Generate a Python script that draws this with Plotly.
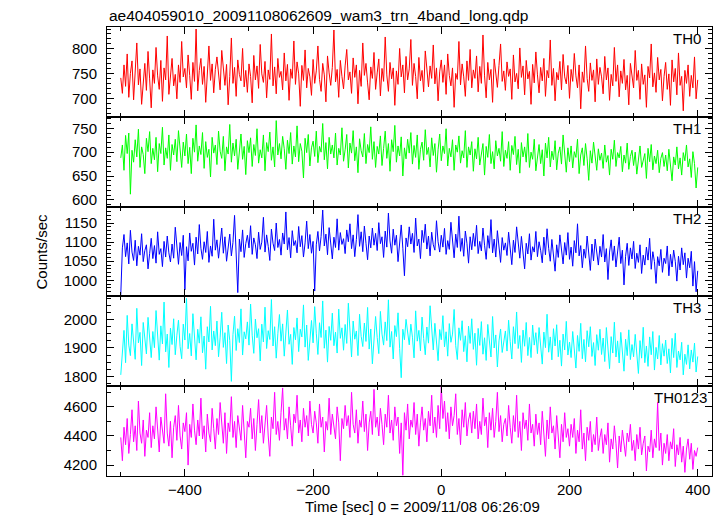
import numpy as np
import plotly.graph_objects as go
from plotly.subplots import make_subplots

title_text = "ae404059010_20091108062609_wam3_trn_4band_long.qdp"
band_names = ["TH0", "TH1", "TH2", "TH3", "TH0123"]
band_colors = ["#ff0000", "#00ff00", "#0000ff", "#00ffff", "#ff00ff"]

# bin times (sec), 2.5 s bins
t_start, t_step, n_bins = -500.0, 2.5, 361
time = t_start + t_step * np.arange(n_bins)

th0 = [
    742, 711, 768, 725, 790, 703, 751, 776, 698, 745, 812, 728, 760, 689, 734, 771, 717, 795, 740, 682,
    758, 731, 803, 746, 719, 777, 695, 762, 738, 826, 709, 754, 781, 726, 749, 700, 768, 733, 815, 744,
    761, 722, 788, 747, 699, 773, 735, 840, 716, 757, 781, 729, 765, 693, 748, 806, 737, 770, 712, 759,
    784, 741, 718, 797, 752, 727, 769, 688, 745, 822, 731, 763, 705, 778, 749, 736, 801, 724, 757, 713,
    770, 745, 692, 787, 738, 766, 721, 809, 750, 733, 775, 702, 758, 739, 830, 726, 764, 710, 781, 743,
    755, 718, 792, 736, 769, 697, 760, 741, 816, 729, 774, 750, 685, 767, 737, 798, 722, 761, 744, 707,
    779, 731, 756, 806, 739, 715, 771, 748, 694, 786, 752, 727, 763, 838, 734, 759, 703, 777, 745, 720,
    766, 799, 738, 754, 711, 782, 743, 768, 690, 757, 725, 812, 747, 771, 732, 698, 764, 741, 793, 719,
    752, 780, 706, 761, 735, 824, 748, 715, 773, 740, 762, 687, 756, 729, 801, 744, 768, 712, 785, 738,
    760, 819, 727, 771, 745, 700, 783, 736, 757, 714, 796, 749, 724, 766, 741, 808, 730, 762, 696, 754,
    778, 733, 768, 709, 790, 747, 726, 762, 683, 751, 739, 815, 728, 770, 744, 705, 776, 737, 799, 722,
    758, 741, 786, 714, 765, 731, 828, 746, 702, 773, 738, 759, 693, 780, 749, 723, 767, 810, 735, 756,
    717, 774, 745, 760, 699, 788, 734, 751, 720, 802, 743, 766, 708, 777, 740, 755, 689, 769, 732, 794,
    748, 712, 763, 736, 781, 705, 757, 742, 818, 727, 761, 696, 753, 738, 775, 718, 789, 744, 730, 767,
    701, 759, 735, 791, 746, 722, 768, 680, 754, 733, 806, 741, 715, 772, 737, 758, 694, 780, 729, 763,
    744, 710, 785, 738, 762, 697, 749, 726, 803, 735, 768, 704, 756, 731, 779, 718, 747, 688, 771, 740,
    722, 797, 737, 757, 699, 770, 729, 748, 683, 765, 742, 810, 724, 752, 713, 783, 738, 759, 696, 745,
    773, 719, 750, 687, 778, 734, 761, 708, 792, 727, 745, 676, 757, 731, 768, 705, 747, 722, 784, 700,
    738,
]
th1 = [
    688, 715, 662, 735, 697, 740, 612, 704, 679, 726, 690, 748, 668, 711, 695, 655, 729, 701, 743, 676,
    708, 684, 731, 659, 718, 697, 752, 673, 709, 687, 736, 662, 716, 694, 727, 680, 745, 703, 668, 721,
    692, 738, 676, 710, 655, 729, 700, 757, 681, 713, 695, 741, 666, 722, 689, 706, 648, 731, 698, 715,
    674, 744, 702, 687, 733, 661, 711, 696, 758, 679, 719, 692, 727, 664, 707, 738, 685, 712, 653, 724,
    699, 730, 670, 716, 693, 749, 677, 705, 688, 736, 661, 720, 701, 742, 683, 711, 669, 766, 694, 718,
    686, 733, 707, 664, 725, 697, 741, 675, 713, 690, 755, 680, 718, 702, 646, 729, 699, 737, 671, 709,
    723, 691, 744, 678, 712, 700, 760, 684, 720, 665, 731, 696, 715, 688, 740, 673, 708, 694, 751, 681,
    705, 737, 667, 719, 698, 745, 682, 711, 657, 728, 703, 690, 739, 676, 716, 699, 753, 685, 722, 668,
    712, 696, 734, 672, 708, 744, 687, 718, 660, 726, 701, 756, 679, 713, 692, 732, 650, 709, 686, 727,
    698, 741, 675, 714, 689, 736, 664, 706, 721, 683, 747, 695, 710, 669, 730, 693, 718, 658, 705, 738,
    682, 713, 697, 749, 671, 708, 690, 726, 662, 715, 700, 734, 677, 703, 688, 745, 668, 711, 694, 722,
    660, 707, 686, 731, 673, 699, 718, 652, 712, 689, 737, 676, 701, 665, 724, 692, 708, 681, 743, 670,
    704, 687, 722, 662, 714, 695, 733, 674, 706, 656, 720, 690, 711, 679, 739, 668, 700, 685, 727, 661,
    696, 716, 676, 705, 650, 719, 688, 731, 669, 702, 684, 724, 663, 698, 711, 675, 736, 692, 658, 709,
    680, 713, 667, 701, 689, 727, 655, 694, 709, 672, 718, 686, 641, 703, 677, 721, 690, 662, 707, 683,
    698, 666, 715, 679, 693, 652, 706, 685, 725, 670, 699, 688, 712, 659, 694, 677, 719, 664, 691, 704,
    672, 700, 654, 689, 713, 668, 684, 697, 645, 708, 680, 716, 663, 692, 676, 704, 657, 687, 699, 670,
    694, 661, 706, 678, 640, 690, 673, 711, 665, 688, 652, 699, 682, 715, 669, 686, 647, 701, 676, 625,
    668,
]
th2 = [
    962, 1085, 1120, 1062, 1098, 1043, 1131, 1074, 1052, 1105, 1038, 1089, 1066, 1122, 1049, 1078, 1093, 1030, 1070, 1110,
    1057, 1091, 1045, 1127, 1068, 1083, 1036, 1102, 1061, 1116, 1072, 1048, 1095, 1058, 1139, 1080, 1042, 1099, 1065, 1118,
    975, 1088, 1051, 1124, 1076, 1097, 1040, 1113, 1069, 1146, 1084, 1055, 1101, 1073, 1128, 1047, 1090, 1063, 1160, 1079,
    1106, 1058, 1092, 1137, 1071, 1114, 1050, 1087, 1121, 1064, 1099, 1170, 1082, 968, 1108, 1075, 1132, 1060, 1096, 1118,
    1085, 1143, 1068, 1111, 1093, 1057, 1126, 1081, 1100, 1165, 1074, 1119, 1089, 1052, 1134, 1097, 1078, 1150, 1086, 1107,
    1066, 1124, 1095, 1179, 1080, 1112, 1059, 1130, 1091, 1104, 1072, 1141, 1088, 1117, 1061, 1098, 1155, 1083, 1120, 1071,
    1102, 972, 1093, 1128, 1077, 1115, 1184, 1090, 1121, 1067, 1138, 1096, 1056, 1113, 1086, 1161, 1079, 1125, 1094, 1109,
    1070, 1132, 1101, 1148, 1083, 1119, 1062, 1107, 1172, 1089, 1127, 1075, 1142, 1097, 1054, 1116, 1085, 1137, 1092, 1123,
    1078, 1151, 1096, 1114, 1060, 1129, 1087, 1176, 1103, 1071, 1134, 1092, 1118, 1049, 1106, 1145, 1084, 1012, 1111, 1088,
    1140, 1095, 1123, 1073, 1163, 1090, 1108, 1057, 1131, 1099, 1147, 1082, 1116, 1064, 1126, 1093, 1079, 1156, 1101, 1074,
    1118, 1087, 1136, 1068, 1104, 1081, 1152, 1094, 1059, 1121, 1086, 1168, 1076, 1110, 1063, 1129, 1097, 1045, 1114, 1080,
    1123, 1089, 1144, 1070, 1102, 1077, 1137, 1092, 1055, 1117, 1084, 1159, 1072, 1108, 1061, 1130, 1095, 1047, 1112, 1079,
    1098, 1065, 1126, 1086, 1041, 1105, 1073, 1140, 1091, 1058, 1115, 1078, 1030, 1097, 1069, 1122, 1053, 1088, 1074, 1128,
    1062, 1101, 1079, 1046, 1113, 1067, 1135, 1084, 1050, 1107, 1071, 1024, 1093, 1060, 1119, 1081, 1043, 1099, 1066, 1125,
    1055, 1087, 1037, 1104, 1072, 1148, 1064, 1091, 1033, 1082, 1058, 1116, 1069, 1026, 1095, 1051, 1108, 1077, 1040, 1089,
    1061, 1120, 1048, 1083, 1002, 1074, 1106, 1052, 1090, 1035, 1068, 1113, 1044, 1079, 988, 1063, 1097, 1039, 1085, 1056,
    1102, 1031, 1071, 1047, 1093, 1018, 1066, 1040, 1087, 1053, 1110, 1029, 1075, 1049, 992, 1062, 1038, 1081, 1021, 1058,
    1044, 1090, 1012, 1068, 1035, 1079, 1050, 998, 1063, 1027, 1085, 1041, 1072, 1006, 1058, 1033, 1076, 985, 1049, 970,
    1025,
]
th3 = [
    1805, 1890, 1962, 1848, 2015, 1910, 1873, 1985, 1932, 1860, 2040, 1918, 1955, 1838, 1990, 1922, 1879, 2008, 1940, 1866,
    1958, 1901, 2032, 1925, 1857, 1978, 1914, 2062, 1886, 1949, 1831, 1970, 1912, 2003, 1876, 1945, 1998, 1905, 1862, 1984,
    1928, 2075, 1897, 1951, 1872, 2021, 1934, 1858, 1966, 1917, 2010, 1883, 1942, 1825, 1975, 1921, 2047, 1893, 1960, 1908,
    1995, 1869, 1938, 2026, 1902, 1954, 1845, 1981, 1926, 1782, 1947, 2012, 1891, 1968, 1919, 2038, 1875, 1957, 1932, 1992,
    1910, 2055, 1945, 1881, 2002, 1936, 1968, 1854, 1984, 1921, 2044, 1898, 1961, 1930, 2071, 1907, 1975, 1864, 1950, 2018,
    1924, 1985, 1871, 1959, 2034, 1913, 1948, 1842, 1972, 1929, 2006, 1887, 1966, 1939, 2052, 1903, 1981, 1856, 1944, 1997,
    1918, 2046, 1952, 1877, 1989, 1937, 2066, 1899, 1963, 1850, 1976, 1927, 2023, 1908, 1956, 1882, 2037, 1934, 1971, 1892,
    1983, 1916, 2058, 1946, 1868, 1995, 1931, 1960, 1873, 2019, 1941, 1905, 1988, 1923, 2043, 1896, 1967, 1844, 1953, 2011,
    1937, 1880, 2029, 1949, 1910, 1992, 1926, 2070, 1903, 1958, 1861, 1979, 1940, 2024, 1898, 1795, 1966, 1929, 2001, 1946,
    1911, 1984, 1938, 1865, 2031, 1924, 1962, 1890, 2009, 1933, 1876, 1974, 1917, 2049, 1951, 1893, 1987, 1926, 1855, 1965,
    1929, 2014, 1904, 1957, 1871, 1986, 1920, 1949, 2036, 1908, 1859, 1971, 1927, 1996, 1887, 1943, 1851, 1977, 1916, 2003,
    1895, 1952, 1839, 1969, 1909, 1993, 1878, 1936, 1856, 1983, 1913, 1868, 2011, 1900, 1946, 1833, 1925, 1967, 1884, 1931,
    1960, 1889, 1998, 1922, 1861, 1975, 1915, 2027, 1898, 1944, 1849, 1963, 1906, 1990, 1873, 1937, 1866, 1981, 1910, 1954,
    1880, 1972, 1913, 1843, 1956, 1901, 2019, 1885, 1939, 1858, 1968, 1907, 1982, 1869, 1927, 1836, 1949, 1893, 1994, 1875,
    1921, 1866, 1958, 1899, 1829, 1944, 1888, 1987, 1862, 1930, 1851, 1961, 1904, 1975, 1870, 1919, 1838, 1947, 1892, 1966,
    1877, 1935, 1852, 1972, 1896, 1827, 1940, 1882, 1991, 1868, 1925, 1847, 1955, 1890, 1818, 1931, 1873, 1964, 1859, 1912,
    1869, 1948, 1883, 1810, 1926, 1864, 1973, 1848, 1907, 1835, 1939, 1876, 1958, 1822, 1902, 1861, 1944, 1840, 1915, 1871,
    1928, 1845, 1897, 1812, 1934, 1866, 1952, 1831, 1889, 1858, 1920, 1805, 1878, 1842, 1911, 1826, 1893, 1850, 1917, 1815,
    1870,
]
th0123 = [
    4390, 4230, 4460, 4340, 4520, 4280, 4410, 4580, 4360, 4470, 4300, 4640, 4420, 4350, 4510, 4260, 4440, 4390, 4560, 4320,
    4470, 4380, 4600, 4410, 4290, 4530, 4450, 4350, 4690, 4420, 4330, 4500, 4250, 4460, 4540, 4370, 4610, 4400, 4310, 4490,
    4430, 4560, 4200, 4480, 4390, 4620, 4440, 4340, 4510, 4400, 4660, 4380, 4470, 4290, 4550, 4420, 4360, 4590, 4450, 4310,
    4520, 4410, 4630, 4470, 4350, 4560, 4280, 4490, 4430, 4670, 4390, 4500, 4320, 4540, 4460, 4370, 4610, 4440, 4250, 4500,
    4460, 4590, 4380, 4520, 4300, 4480, 4650, 4420, 4540, 4350, 4470, 4610, 4400, 4260, 4530, 4450, 4700, 4410, 4500, 4370,
    4560, 4730, 4440, 4520, 4380, 4600, 4470, 4330, 4550, 4490, 4680, 4420, 4510, 4360, 4590, 4460, 4540, 4400, 4640, 4480,
    4420, 4570, 4490, 4350, 4620, 4460, 4530, 4290, 4500, 4440, 4660, 4410, 4550, 4470, 4380, 4600, 4490, 4230, 4520, 4450,
    4610, 4470, 4540, 4390, 4700, 4480, 4420, 4580, 4350, 4510, 4460, 4640, 4430, 4550, 4300, 4490, 4570, 4410, 4720, 4460,
    4530, 4400, 4590, 4480, 4340, 4550, 4460, 4680, 4420, 4510, 4370, 4600, 4470, 4530, 4280, 4490, 4130, 4560, 4440, 4620,
    4380, 4510, 4460, 4630, 4410, 4550, 4330, 4490, 4600, 4440, 4520, 4360, 4570, 4470, 4680, 4420, 4530, 4390, 4610, 4450,
    4740, 4520, 4640, 4430, 4560, 4380, 4600, 4470, 4540, 4690, 4410, 4520, 4340, 4580, 4460, 4630, 4400, 4510, 4560, 4420,
    4570, 4450, 4620, 4380, 4500, 4410, 4660, 4470, 4530, 4320, 4560, 4440, 4590, 4390, 4500, 4700, 4430, 4540, 4360, 4480,
    4520, 4400, 4610, 4460, 4350, 4540, 4430, 4680, 4390, 4500, 4300, 4560, 4450, 4510, 4370, 4620, 4420, 4480, 4330, 4550,
    4410, 4490, 4340, 4570, 4430, 4260, 4510, 4380, 4600, 4420, 4470, 4310, 4540, 4400, 4250, 4480, 4360, 4560, 4390, 4450,
    4330, 4480, 4390, 4520, 4280, 4440, 4360, 4580, 4310, 4420, 4230, 4460, 4370, 4500, 4290, 4410, 4340, 4530, 4300, 4390,
    4450, 4280, 4410, 4340, 4490, 4220, 4380, 4310, 4470, 4350, 4180, 4400, 4290, 4440, 4330, 4260, 4420, 4360, 4480, 4300,
    4370, 4230, 4410, 4310, 4460, 4270, 4350, 4400, 4160, 4330, 4290, 4440, 4250, 4380, 4320, 4630, 4300, 4420, 4200, 4350,
    4280, 4410, 4230, 4360, 4310, 4450, 4190, 4340, 4270, 4390, 4220, 4330, 4150, 4310, 4380, 4240, 4350, 4170, 4300, 4260,
    4320,
]
series = [th0, th1, th2, th3, th0123]

y_ranges = [[664, 844], [586, 774], [958, 1193], [1765, 2082], [4125, 4742]]
y_dticks = [50, 50, 50, 100, 200]
y_minor = [10, 10, 10, 25, 100]
x_range = [-521.5, 422.3]

FONT = "Liberation Sans, Arial, sans-serif"

fig = make_subplots(rows=5, cols=1, shared_xaxes=True, vertical_spacing=0)
for i, (vals, col) in enumerate(zip(series, band_colors)):
    fig.add_trace(
        go.Scatter(x=time[:len(vals)], y=vals, mode="lines", line=dict(color=col, width=1),
                   showlegend=False, hoverinfo="skip"),
        row=i + 1, col=1,
    )
    fig.update_yaxes(
        range=y_ranges[i], dtick=y_dticks[i], tick0=0, ticks="inside", ticklen=7,
        tickwidth=1, tickcolor="black", showline=True, linecolor="black", linewidth=1,
        mirror="ticks", showgrid=False, zeroline=False, ticklabelstandoff=6,
        minor=dict(dtick=y_minor[i], tick0=0, ticks="inside", ticklen=4, tickcolor="black", showgrid=False),
        tickfont=dict(family=FONT, size=15, color="black"),
        row=i + 1, col=1,
    )
    fig.update_xaxes(
        range=x_range, dtick=200, tick0=0, ticks="inside", ticklen=7, tickwidth=1,
        tickcolor="black", showline=True, linecolor="black", linewidth=1, mirror="ticks",
        showgrid=False, zeroline=False,
        minor=dict(dtick=100, tick0=0, ticks="inside", ticklen=4, tickcolor="black", showgrid=False),
        showticklabels=(i == 4), ticklabelstandoff=0,
        tickfont=dict(family=FONT, size=15, color="black"),
        row=i + 1, col=1,
    )

annotations = [
    dict(text=title_text, xref="paper", yref="paper", x=0, y=1, xanchor="left", yanchor="bottom",
         yshift=1, showarrow=False, font=dict(family=FONT, size=15.5, color="black")),
    dict(text="Counts/sec", xref="paper", yref="paper", x=0, y=0.5, xanchor="center", yanchor="middle",
         xshift=-66, textangle=-90, showarrow=False, font=dict(family=FONT, size=15, color="black")),
    dict(text="Time [sec] 0 = 2009/11/08 06:26:09", xref="paper", yref="paper", x=0.5207, y=0,
         xanchor="center", yanchor="top", yshift=-20, showarrow=False,
         font=dict(family=FONT, size=15, color="black")),
]
label_shift = [-9, -9, -9, -9, -3]
for i, name in enumerate(band_names):
    axn = "" if i == 0 else str(i + 1)
    annotations.append(dict(
        text=name, xref=f"x{axn} domain", yref=f"y{axn} domain", x=1, y=1,
        xanchor="right", yanchor="top", xshift=label_shift[i], yshift=-1, showarrow=False,
        font=dict(family=FONT, size=15, color="black")))

fig.update_layout(
    width=723, height=516, margin=dict(l=107, r=11, t=27, b=40),
    paper_bgcolor="white", plot_bgcolor="white", annotations=annotations,
)
fig.write_html("out.html", config={"displayModeBar": False},
               post_script="document.body.style.margin='0px';document.body.style.overflow='hidden';")
